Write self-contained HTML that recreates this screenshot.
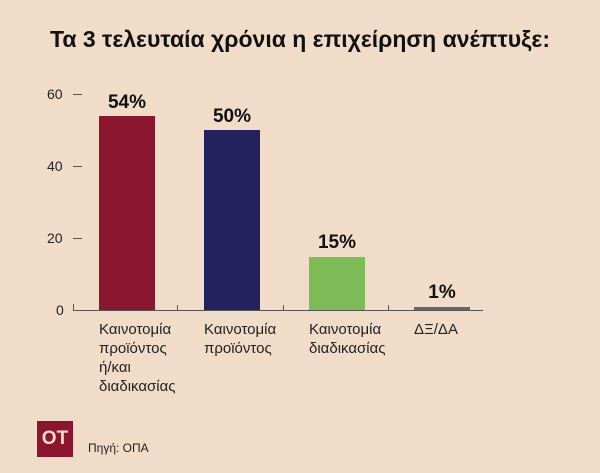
<!DOCTYPE html><html><head><style>
body{margin:0;width:600px;height:473px;background:#f1dcca;font-family:"Liberation Sans",sans-serif;position:relative;overflow:hidden}
.a{position:absolute}
.t{font-size:14px;color:#222}
.l{font-size:15px;color:#222;line-height:19px}
.v{font-weight:bold;font-size:19px;color:#111;text-align:center;width:56px}
</style></head><body>
<div class="a" style="left:0;width:600px;top:26px;text-align:center;font-size:23px;font-weight:bold;color:#111">Τα 3 τελευταία χρόνια η επιχείρηση ανέπτυξε:</div>
<div class="a t" style="left:47px;top:86px">60</div>
<div class="a t" style="left:47px;top:158px">40</div>
<div class="a t" style="left:47px;top:230px">20</div>
<div class="a t" style="left:56px;top:302px">0</div>
<div class="a" style="left:73px;top:94px;width:9px;height:1px;background:#555"></div>
<div class="a" style="left:73px;top:166px;width:9px;height:1px;background:#555"></div>
<div class="a" style="left:73px;top:238px;width:9px;height:1px;background:#555"></div>
<div class="a" style="left:73px;top:310px;width:410px;height:1px;background:#555"></div>
<div class="a" style="left:73px;top:304px;width:1px;height:7px;background:#555"></div>
<div class="a" style="left:177px;top:305px;width:1px;height:6px;background:#555"></div>
<div class="a" style="left:283px;top:305px;width:1px;height:6px;background:#555"></div>
<div class="a" style="left:388px;top:305px;width:1px;height:6px;background:#555"></div>
<div class="a" style="left:99px;top:116px;width:56px;height:194px;background:#8a1630"></div>
<div class="a" style="left:204px;top:130px;width:56px;height:180px;background:#24225e"></div>
<div class="a" style="left:309px;top:257px;width:56px;height:53px;background:#7dbb57"></div>
<div class="a" style="left:414px;top:307px;width:56px;height:3px;background:#666"></div>
<div class="a v" style="left:99px;top:92px">54%</div>
<div class="a v" style="left:204px;top:106px">50%</div>
<div class="a v" style="left:309px;top:232px">15%</div>
<div class="a v" style="left:414px;top:282px">1%</div>
<div class="a l" style="left:99px;top:320px">Καινοτομία<br>προϊόντος<br>ή/και<br>διαδικασίας</div>
<div class="a l" style="left:204px;top:320px">Καινοτομία<br>προϊόντος</div>
<div class="a l" style="left:309px;top:320px">Καινοτομία<br>διαδικασίας</div>
<div class="a l" style="left:414px;top:320px">ΔΞ/ΔΑ</div>
<div class="a" style="left:37px;top:421px;width:36px;height:36px;background:#8a1630;color:#f1dcca;font-weight:bold;font-size:19px;line-height:36px;text-align:center">OT</div>
<div class="a" style="left:88px;top:441px;font-size:12px;color:#222">Πηγή: ΟΠΑ</div>
</body></html>
